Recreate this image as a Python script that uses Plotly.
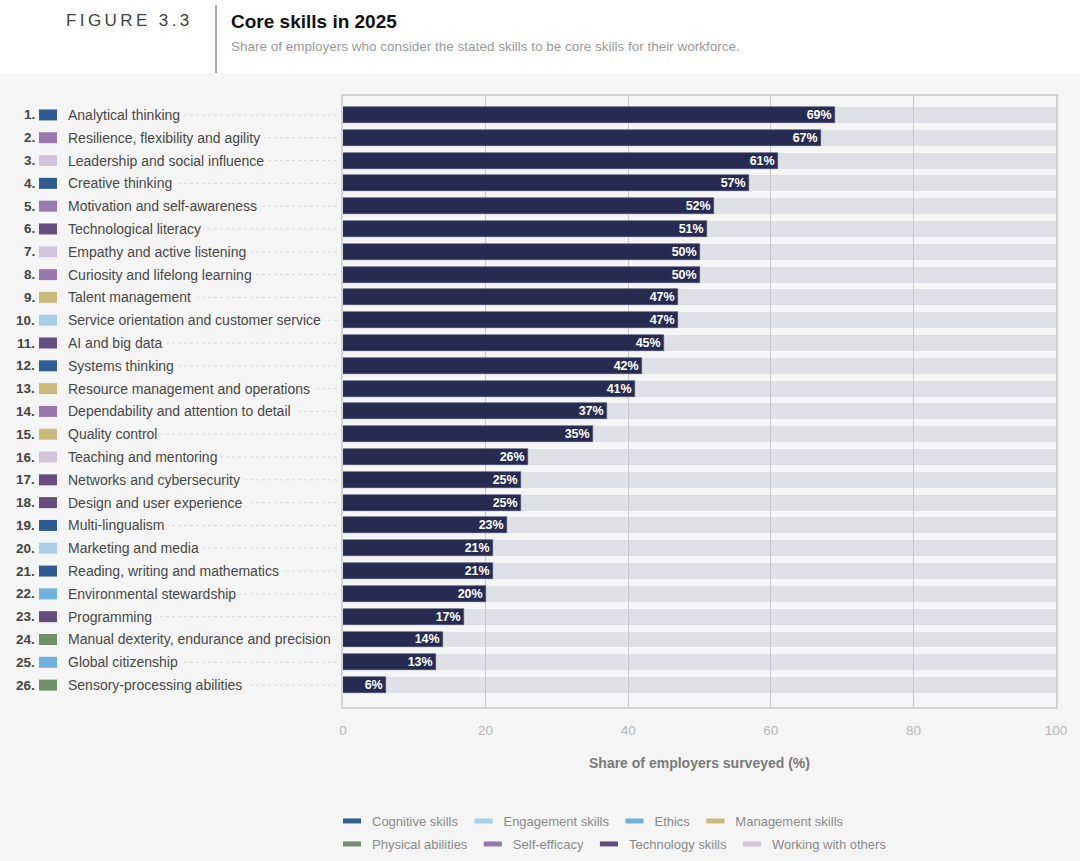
import plotly.graph_objects as go

# ---------------- data ----------------
skills = [
    "Analytical thinking", "Resilience, flexibility and agility", "Leadership and social influence",
    "Creative thinking", "Motivation and self-awareness", "Technological literacy",
    "Empathy and active listening", "Curiosity and lifelong learning", "Talent management",
    "Service orientation and customer service", "AI and big data", "Systems thinking",
    "Resource management and operations", "Dependability and attention to detail", "Quality control",
    "Teaching and mentoring", "Networks and cybersecurity", "Design and user experience",
    "Multi-lingualism", "Marketing and media", "Reading, writing and mathematics",
    "Environmental stewardship", "Programming", "Manual dexterity, endurance and precision",
    "Global citizenship", "Sensory-processing abilities",
]
values = [69, 67, 61, 57, 52, 51, 50, 50, 47, 47, 45, 42, 41, 37, 35, 26, 25, 25, 23, 21, 21, 20, 17, 14, 13, 6]
skill_group = [
    "Cognitive skills", "Self-efficacy", "Working with others", "Cognitive skills", "Self-efficacy",
    "Technology skills", "Working with others", "Self-efficacy", "Management skills", "Engagement skills",
    "Technology skills", "Cognitive skills", "Management skills", "Self-efficacy", "Management skills",
    "Working with others", "Technology skills", "Technology skills", "Cognitive skills", "Engagement skills",
    "Cognitive skills", "Ethics", "Technology skills", "Physical abilities", "Ethics", "Physical abilities",
]
groups = ["Cognitive skills", "Engagement skills", "Ethics", "Management skills",
          "Physical abilities", "Self-efficacy", "Technology skills", "Working with others"]
group_colors = ["#2f5d93", "#a9cfe8", "#72b0dc", "#c9b97a",
                "#6e8f67", "#9878ae", "#664c7f", "#d2c4dc"]
x_ticks = [0, 20, 40, 60, 80, 100]
full_scale = 100

title = "Core skills in 2025"
subtitle = "Share of employers who consider the stated skills to be core skills for their workforce."
figure_label = "FIGURE 3.3"
x_title = "Share of employers surveyed (%)"

# ---------------- layout helpers ----------------
W, H = 1080, 861
ML, MR, MT, MB = 20, 24, 96, 154
PW, PH = W - ML - MR, H - MT - MB


def px(xp):
    return (xp - ML) / PW


def py(yp):
    return (H - MB - yp) / PH


FONT = "Liberation Sans"
idx = list(range(len(skills)))

fig = go.Figure()

# background 100% bars
fig.add_trace(go.Bar(
    x=[full_scale] * len(skills), y=idx, orientation="h", width=0.7,
    marker=dict(color="rgba(196,199,210,0.45)", line=dict(width=0)),
    hoverinfo="skip", showlegend=False, xaxis="x", yaxis="y",
))
# value bars
fig.add_trace(go.Bar(
    x=values, y=idx, orientation="h", width=0.7,
    marker=dict(color="#272b51", line=dict(color="#4a4e72", width=0.6)),
    text=[f"{v}%" for v in values], textposition="inside", insidetextanchor="end",
    textangle=0, constraintext="none",
    textfont=dict(family=FONT, size=12.5, color="white", weight="bold"),
    showlegend=False, xaxis="x", yaxis="y",
))

# category swatches (also feed the legend)
for gi, (g, c) in enumerate(zip(groups, group_colors)):
    ys = [i for i in idx if skill_group[i] == g]
    fig.add_trace(go.Scatter(
        x=[0.5] * len(ys), y=ys, mode="markers", name=g,
        marker=dict(symbol="line-ew", size=12.9, color=c, line=dict(color=c, width=11)),
        xaxis="x2", yaxis="y", hoverinfo="skip", cliponaxis=False,
        legend="legend" if gi < 4 else "legend2",
    ))

shapes = []
annotations = []

# header white band
shapes.append(dict(type="rect", xref="paper", yref="paper", x0=px(-5), x1=px(W + 5),
                   y0=py(73), y1=py(-5), fillcolor="white", line=dict(width=0), layer="below"))
# divider
shapes.append(dict(type="line", xref="paper", yref="paper", x0=px(216), x1=px(216),
                   y0=py(5), y1=py(73), line=dict(color="#555555", width=1)))

fig_text = "\u2009".join(list(figure_label)).replace("\u2009 \u2009", "\u2009 \u2009")
annotations.append(dict(text=fig_text,
                        x=px(64), y=py(20.5), xref="paper", yref="paper",
                        xanchor="left", yanchor="middle", showarrow=False,
                        font=dict(family=FONT, size=17, color="#404040")))
annotations.append(dict(text=f"<b>{title}</b>", x=px(229), y=py(21), xref="paper", yref="paper",
                        xanchor="left", yanchor="middle", showarrow=False,
                        font=dict(family=FONT, size=19, color="#111111")))
annotations.append(dict(text=subtitle, x=px(229), y=py(46), xref="paper", yref="paper",
                        xanchor="left", yanchor="middle", showarrow=False,
                        font=dict(family=FONT, size=13.5, color="#9a9a9a")))

# row labels with dotted leaders
for i, s in enumerate(skills):
    shapes.append(dict(type="line", xref="paper", yref="y", x0=px(70), x1=px(337), y0=i, y1=i,
                       line=dict(color="#dadada", width=1, dash="dot"), layer="below"))
    annotations.append(dict(text=f"<b>{i + 1}.</b>", x=px(37), y=i, xref="paper", yref="y",
                            xanchor="right", yanchor="middle", showarrow=False,
                            font=dict(family=FONT, size=13.5, color="#444444")))
    annotations.append(dict(text=s, x=px(64), y=i, xref="paper", yref="y",
                            xanchor="left", yanchor="middle", showarrow=False,
                            bgcolor="#f5f5f5", borderpad=3,
                            font=dict(family=FONT, size=14, color="#474747")))

annotations.append(dict(text=f"<b>{x_title}</b>", x=px(699.5), y=py(763), xref="paper", yref="paper",
                        xanchor="center", yanchor="middle", showarrow=False,
                        font=dict(family=FONT, size=14, color="#7a7a7a")))

fig.update_layout(
    width=W, height=H,
    margin=dict(l=ML, r=MR, t=MT, b=MB, autoexpand=False),
    paper_bgcolor="#f5f5f5", plot_bgcolor="#f5f5f5",
    barmode="overlay", bargap=0,
    font=dict(family=FONT),
    xaxis=dict(domain=[px(343), 1], range=[0, full_scale], tickvals=x_ticks,
               showgrid=True, gridcolor="#cbcbcb", gridwidth=1, zeroline=False,
               showline=True, mirror=True, linecolor="#d3d3d3", linewidth=1.5,
               ticks="", ticklabelstandoff=10,
               tickfont=dict(family=FONT, size=13.5, color="#b8b8b8"), anchor="y", fixedrange=True),
    xaxis2=dict(domain=[px(39), px(57)], range=[0, 1], visible=False, anchor="y", fixedrange=True),
    yaxis=dict(range=[len(skills) - 1 + 0.96, -0.83], showgrid=False, zeroline=False,
               showticklabels=False, showline=True, mirror=True, linecolor="#d3d3d3", linewidth=1.5,
               ticks="", fixedrange=True),
    legend=dict(orientation="h", x=px(332), y=py(821), xanchor="left", yanchor="middle",
                bgcolor="rgba(0,0,0,0)", font=dict(family=FONT, size=13, color="#8a8a8a"),
                traceorder="normal"),
    legend2=dict(orientation="h", x=px(332), y=py(844), xanchor="left", yanchor="middle",
                 bgcolor="rgba(0,0,0,0)", font=dict(family=FONT, size=13, color="#8a8a8a"),
                 traceorder="normal"),
    shapes=shapes, annotations=annotations,
)

fig.write_html("out.html", config={"displayModeBar": False},
               post_script="document.body.style.margin='0';document.body.style.background='#f5f5f5';")
